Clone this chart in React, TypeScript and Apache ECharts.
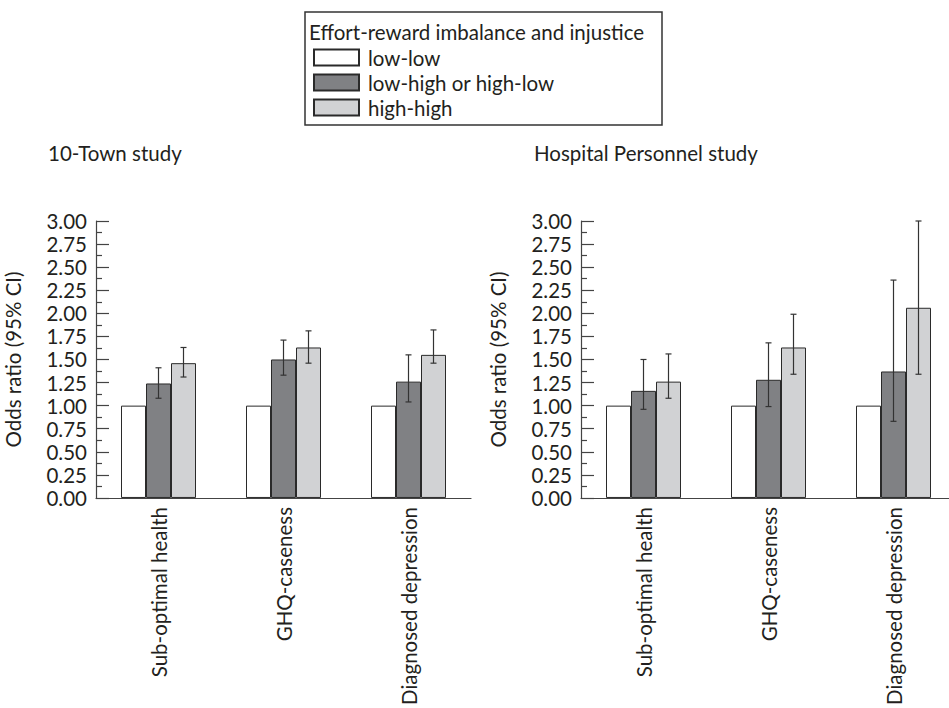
import React, { useEffect, useRef } from "react";
import * as echarts from "echarts";

const categories = ["Sub-optimal health", "GHQ-caseness", "Diagnosed depression"];
const groups = ["low-low", "low-high or high-low", "high-high"];
const panelTitles = ["10-Town study", "Hospital Personnel study"];
const legendTitle = "Effort-reward imbalance and injustice";
const yAxisName = "Odds ratio (95% CI)";

// 10-Town study
const townLowLow = [1.0, 1.0, 1.0];
const townMixed = [1.24, 1.5, 1.26];
const townHigh = [1.46, 1.63, 1.55];
const townMixedLo = [1.08, 1.33, 1.04];
const townMixedHi = [1.41, 1.71, 1.55];
const townHighLo = [1.31, 1.46, 1.46];
const townHighHi = [1.63, 1.81, 1.82];

// Hospital Personnel study
const hospLowLow = [1.0, 1.0, 1.0];
const hospMixed = [1.16, 1.28, 1.37];
const hospHigh = [1.26, 1.63, 2.06];
const hospMixedLo = [0.96, 0.99, 0.83];
const hospMixedHi = [1.5, 1.68, 2.36];
const hospHighLo = [1.08, 1.34, 1.34];
const hospHighHi = [1.56, 1.99, 3.0];

const FONT = "Lato";
const FS = 20.5;
const TEXT = "#231f20";
const barColors = ["#ffffff", "#808184", "#d1d2d4"];
const BAR_W = 25;
const CHART_W = 960;

function errorSeries(lo: number[], hi: number[], idx: number, offsetIndex: number) {
  return {
    type: "custom",
    xAxisIndex: idx,
    yAxisIndex: idx,
    z: 10,
    silent: true,
    data: lo.map((l, i) => [i, l, hi[i]]),
    renderItem: (params: any, api: any) => {
      const c = api.value(0);
      const x = api.coord([c, 0])[0] + offsetIndex * BAR_W;
      const yl = api.coord([c, api.value(1)])[1];
      const yh = api.coord([c, api.value(2)])[1];
      const style = { stroke: "#333", lineWidth: 1.2 };
      return {
        type: "group",
        children: [
          { type: "line", shape: { x1: x, y1: yl, x2: x, y2: yh }, style },
          { type: "line", shape: { x1: x - 3, y1: yl, x2: x + 3, y2: yl }, style },
          { type: "line", shape: { x1: x - 3, y1: yh, x2: x + 3, y2: yh }, style },
        ],
      };
    },
  };
}

function barSeries(name: string, data: number[], idx: number, color: string) {
  return {
    type: "bar",
    name,
    xAxisIndex: idx,
    yAxisIndex: idx,
    data,
    barWidth: BAR_W,
    barGap: "0%",
    itemStyle: { color, borderColor: "#2a2a2a", borderWidth: 1 },
  };
}

export default function App() {
  const ref = useRef<HTMLDivElement>(null);
  useEffect(() => {
    if (!ref.current) return;
    const chart = echarts.init(ref.current, undefined, { renderer: "svg" });
    const xAxisBase = {
      type: "category",
      data: categories,
      axisLine: { lineStyle: { color: "#444", width: 1.2 } },
      axisTick: { inside: true, length: 7, lineStyle: { color: "#444", width: 1.2 } },
      axisLabel: {
        rotate: 90,
        margin: 9,
        fontFamily: FONT,
        fontSize: FS,
        color: TEXT,
        interval: 0,
      },
    };
    const yAxisBase = {
      type: "value",
      min: 0,
      max: 3,
      interval: 0.25,
      name: yAxisName,
      nameLocation: "middle",
      nameGap: 73,
      nameTextStyle: { fontFamily: FONT, fontSize: FS, color: TEXT },
      axisLine: { show: true, lineStyle: { color: "#444", width: 1.2 } },
      axisTick: { show: true, inside: true, length: 13, lineStyle: { color: "#444", width: 1.2 } },
      minorTick: { show: true, splitNumber: 2, length: 6, lineStyle: { color: "#444", width: 1.2 } },
      splitLine: { show: false },
      axisLabel: {
        margin: 9,
        fontFamily: FONT,
        fontSize: FS,
        color: TEXT,
        formatter: (v: number) => v.toFixed(2),
      },
    };
    chart.setOption({
      animation: false,
      backgroundColor: "#ffffff",
      grid: [
        { left: 96, right: CHART_W - 471, top: 221, bottom: 210, containLabel: false },
        { left: 581, right: CHART_W - 956, top: 221, bottom: 210, containLabel: false },
      ],
      xAxis: [
        { ...xAxisBase, gridIndex: 0 },
        { ...xAxisBase, gridIndex: 1 },
      ],
      yAxis: [
        { ...yAxisBase, gridIndex: 0 },
        { ...yAxisBase, gridIndex: 1 },
      ],
      legend: {
        data: groups,
        orient: "vertical",
        left: 308,
        top: 42,
        itemWidth: 45,
        itemHeight: 16,
        itemGap: 4,
        icon: "rect",
        selectedMode: false,
        textStyle: {
          fontFamily: FONT,
          fontSize: FS,
          color: TEXT,
          lineHeight: 21,
          padding: [0, 0, 0, 4],
        },
      },
      graphic: [
        {
          type: "rect",
          shape: { x: 305, y: 12, width: 357, height: 113 },
          style: { fill: "none", stroke: "#333", lineWidth: 1.5 },
        },
        {
          type: "text",
          x: 309,
          y: 32,
          style: { text: legendTitle, font: `${FS}px ${FONT}`, fill: TEXT, textVerticalAlign: "middle" },
        },
        {
          type: "text",
          x: 48,
          y: 153,
          style: { text: panelTitles[0], font: `${FS}px ${FONT}`, fill: TEXT, textVerticalAlign: "middle" },
        },
        {
          type: "text",
          x: 534,
          y: 153,
          style: { text: panelTitles[1], font: `${FS}px ${FONT}`, fill: TEXT, textVerticalAlign: "middle" },
        },
      ],
      series: [
        barSeries(groups[0], townLowLow, 0, barColors[0]),
        barSeries(groups[1], townMixed, 0, barColors[1]),
        barSeries(groups[2], townHigh, 0, barColors[2]),
        errorSeries(townMixedLo, townMixedHi, 0, 0),
        errorSeries(townHighLo, townHighHi, 0, 1),
        barSeries(groups[0], hospLowLow, 1, barColors[0]),
        barSeries(groups[1], hospMixed, 1, barColors[1]),
        barSeries(groups[2], hospHigh, 1, barColors[2]),
        errorSeries(hospMixedLo, hospMixedHi, 1, 0),
        errorSeries(hospHighLo, hospHighHi, 1, 1),
      ],
    });
    return () => chart.dispose();
  }, []);
  return (
    <div
      style={{
        position: "absolute",
        left: 0,
        top: 0,
        width: 949,
        height: 708,
        overflow: "hidden",
        background: "#fff",
      }}
    >
      <div ref={ref} style={{ width: CHART_W, height: 708 }} />
    </div>
  );
}
